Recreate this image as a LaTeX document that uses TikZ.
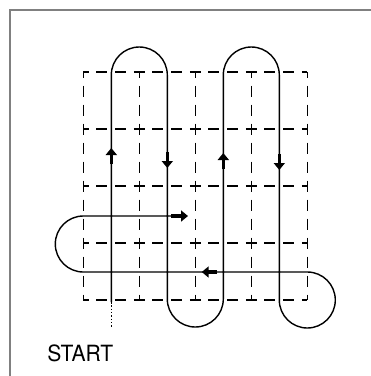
\documentclass[tikz,border=0pt]{standalone}
\usepackage{fontspec}
\usepackage{graphicx}
\newfontfamily\startfont{TeX Gyre Heros}
\usetikzlibrary{arrows.meta}
\begin{document}
\begin{tikzpicture}[x=1pt,y=-1pt,
  frame/.style={draw=black!50,line width=1.1pt},
  gridh/.style={line width=1.6pt,dash pattern=on 11pt off 7.667pt,dash phase=5.5pt},
  gridv/.style={line width=1.6pt,dash pattern=on 11pt off 8pt,dash phase=5.5pt},
  route/.style={line width=1.4pt},
  startdots/.style={line width=1.3pt,dash pattern=on 1.5pt off 1.8pt},
  amark/.style={line width=3.5pt,-{Triangle[width=11pt,length=7pt]}}]
\useasboundingbox (0,0) rectangle (371,376);
\fill[white] (0,0) rectangle (371,376);
% frame
\draw[frame] (10,376) -- (10,10) -- (371,10);
% dashed grid
\foreach \y in {72,129,186,243,300}
  \draw[gridh] (83.3,\y) -- (307.3,\y);
\foreach \x in {83.3,139.3,195.3,251.3,307.3}
  \draw[gridv] (\x,72) -- (\x,300);
% route
\coordinate (s0) at (111.3,302);
\coordinate (s1) at (111.3,328);
\draw[startdots] (s0) -- (s1);
\draw[route] (s0) -- (111.3,75) arc[start angle=180,end angle=0,radius=28pt]
  -- (167.3,299) arc[start angle=180,end angle=360,radius=28pt]
  -- (223.3,75) arc[start angle=180,end angle=0,radius=28pt]
  -- (279.3,300) arc[start angle=180,end angle=450,radius=28pt]
  -- (83.3,272) arc[start angle=270,end angle=90,radius=28pt]
  -- (181,216);
% arrow marks
\draw[amark] (111.3,164) -- (111.3,148);
\draw[amark] (167.3,152) -- (167.3,168);
\draw[amark] (223.3,169) -- (223.3,153);
\draw[amark] (279.3,154) -- (279.3,170);
\draw[amark] (171,216) -- (188,216);
\draw[amark] (217,272) -- (201.7,272);
% label
\node[inner sep=0pt] (start) at (80.3,353.3) {\resizebox{66pt}{16.7pt}{\startfont START}};
\end{tikzpicture}
\end{document}
